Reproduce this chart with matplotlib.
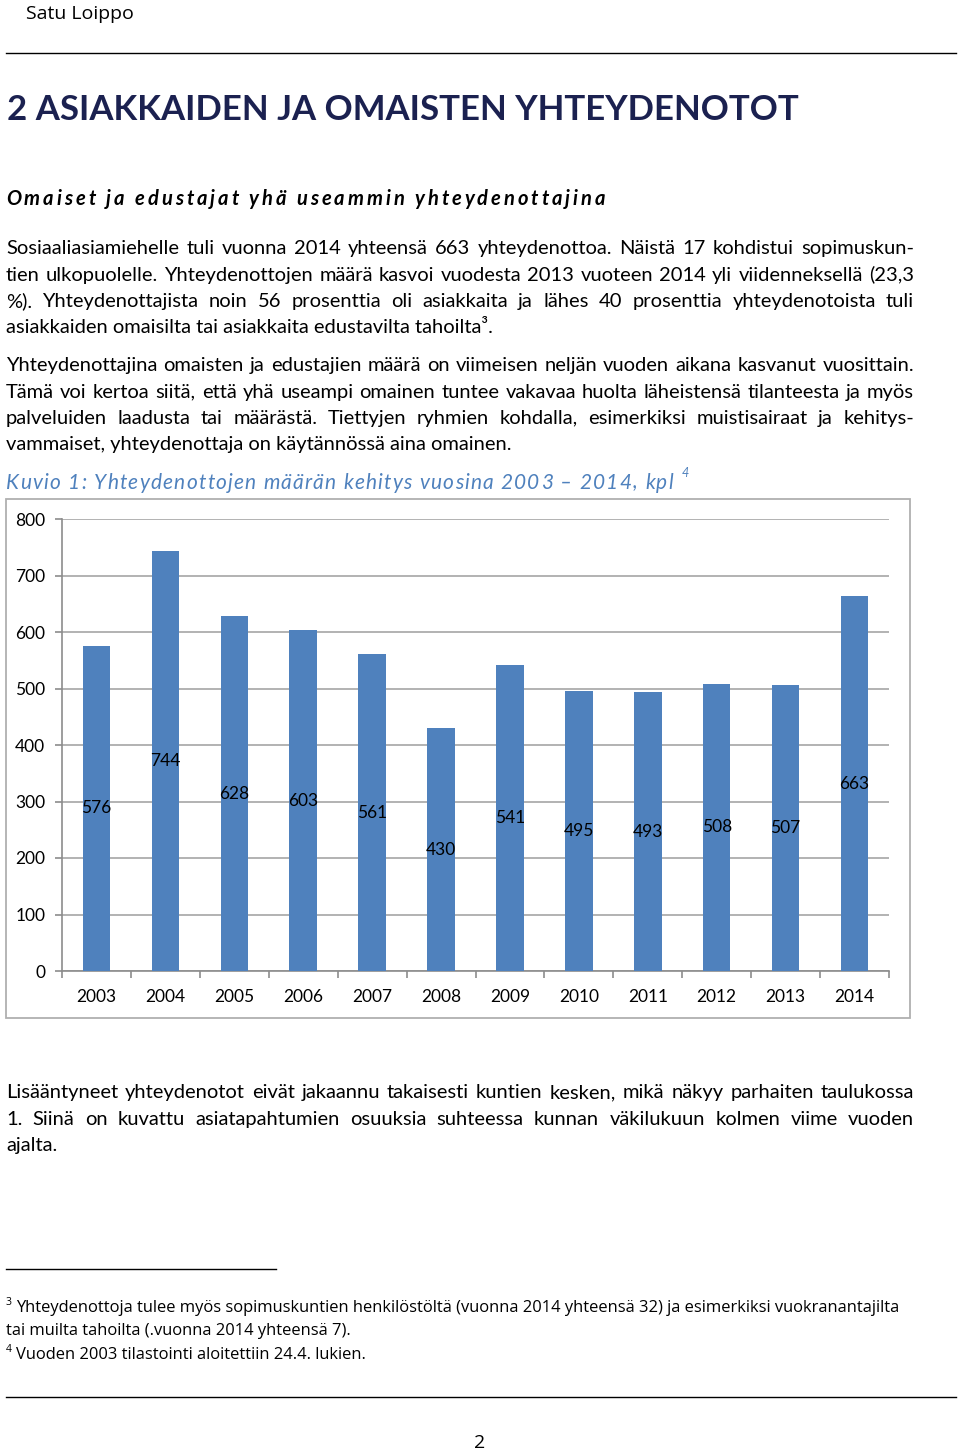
import matplotlib.pyplot as plt
from matplotlib.patches import Rectangle
from matplotlib.lines import Line2D

# chart data
years = ['2003', '2004', '2005', '2006', '2007', '2008',
         '2009', '2010', '2011', '2012', '2013', '2014']
contacts = [576, 744, 628, 603, 561, 430, 541, 495, 493, 508, 507, 663]
y_ticks = [0, 100, 200, 300, 400, 500, 600, 700, 800]

# page text
header = 'Satu Loippo'
heading = '2 ASIAKKAIDEN JA OMAISTEN YHTEYDENOTOT'
subheading = 'Omaiset ja edustajat yhä useammin yhteydenottajina'
para1 = [
    ('Sosiaaliasiamiehelle tuli vuonna 2014 yhteensä 663 yhteydenottoa. Näistä 17 kohdistui sopimuskun-', True),
    ('tien ulkopuolelle. Yhteydenottojen määrä kasvoi vuodesta 2013 vuoteen 2014 yli viidenneksellä (23,3', True),
    ('%). Yhteydenottajista noin 56 prosenttia oli asiakkaita ja lähes 40 prosenttia yhteydenotoista tuli', True),
    ('asiakkaiden omaisilta tai asiakkaita edustavilta tahoilta³.', False),
]
para2 = [
    ('Yhteydenottajina omaisten ja edustajien määrä on viimeisen neljän vuoden aikana kasvanut vuosittain.', True),
    ('Tämä voi kertoa siitä, että yhä useampi omainen tuntee vakavaa huolta läheistensä tilanteesta ja myös', True),
    ('palveluiden laadusta tai määrästä. Tiettyjen ryhmien kohdalla, esimerkiksi muistisairaat ja kehitys-', True),
    ('vammaiset, yhteydenottaja on käytännössä aina omainen.', False),
]
caption = 'Kuvio 1: Yhteydenottojen määrän kehitys vuosina 2003 – 2014, kpl'
para3 = [
    ('Lisääntyneet yhteydenotot eivät jakaannu takaisesti kuntien kesken, mikä näkyy parhaiten taulukossa', True),
    ('1. Siinä on kuvattu asiatapahtumien osuuksia suhteessa kunnan väkilukuun kolmen viime vuoden', True),
    ('ajalta.', False),
]
footnotes = [
    ('3', 'Yhteydenottoja tulee myös sopimuskuntien henkilöstöltä (vuonna 2014 yhteensä 32) ja esimerkiksi vuokranantajilta'),
    ('', 'tai muilta tahoilta (.vuonna 2014 yhteensä 7).'),
    ('4', 'Vuoden 2003 tilastointi aloitettiin 24.4. lukien.'),
]

W, H = 960, 1452
BODY = ['Lato', 'DejaVu Sans']
NOTE = ['Liberation Sans Narrow', 'Open Sans', 'DejaVu Sans']
BLUE = '#4f81bd'

fig = plt.figure(figsize=(W / 100, H / 100), dpi=100)
renderer = fig.canvas.get_renderer()


def fx(x):
    return x / W


def fy(y):
    return 1 - y / H


def put(x, y, s, **kw):
    # y is the visual middle of the capitals; text sits on a shared baseline
    size = kw.get('fontsize', 12)
    kw.setdefault('va', 'baseline')
    if kw['va'] == 'baseline':
        y = y + 0.36 * size * 100 / 72
    return fig.text(fx(x), fy(y), s, **kw)


def width_of(s, **kw):
    t = fig.text(0, 0, s, **kw)
    w = t.get_window_extent(renderer).width
    t.remove()
    return w


def justify(x0, x1, y, line, **kw):
    words = line.split(' ')
    objs = [put(x0, y, w, **kw) for w in words]
    widths = [o.get_window_extent(renderer).width for o in objs]
    gap = (x1 - x0 - sum(widths)) / max(len(words) - 1, 1)
    x = x0
    for o, w in zip(objs, widths):
        o.set_x(fx(x))
        x += w + gap


def tracked(x0, x1, y, s, **kw):
    # letter-spaced text stretched to fill x0..x1
    ref = width_of('l', **kw)
    pos = [width_of(s[:i] + 'l', **kw) - ref if i else 0 for i in range(len(s))]
    full = width_of(s, **kw)
    track = (x1 - x0 - full) / (len(s) - 1)
    for i, c in enumerate(s):
        if c != ' ':
            put(x0 + pos[i] + i * track, y, c, **kw)


def paragraph(lines, y0, step=26.3, size=14.5):
    for i, (line, just) in enumerate(lines):
        y = y0 + i * step
        if just:
            justify(6, 914, y, line, family=BODY, fontsize=size)
        else:
            put(6, y, line, family=BODY, fontsize=size)


# header and rules
put(26, 12, header, family=NOTE, fontsize=14)
fig.add_artist(Line2D([fx(6), fx(956)], [fy(53), fy(53)], color='black', lw=1))
put(7, 108, heading, family=BODY, fontsize=25, fontweight='bold', color='#1b2150')
tracked(6, 605, 198, subheading, family=BODY, fontsize=14.5, fontweight='bold', fontstyle='italic')

paragraph(para1, 247)
paragraph(para2, 364)

tracked(6, 673, 481, caption, family=BODY, fontsize=15, fontstyle='italic', color=BLUE)
put(682, 472, '4', family=BODY, fontsize=9, fontstyle='italic', color=BLUE)

# chart frame
fig.add_artist(Rectangle((fx(6), fy(1018)), (910 - 6) / W, (1018 - 499) / H,
                         fill=False, edgecolor='#b0b0b0', lw=1.3))

ax = fig.add_axes([fx(62), fy(971), (889 - 62) / W, (971 - 519) / H])
xs = range(len(years))
ax.bar(xs, contacts, width=0.4, color=BLUE, zorder=3)
for x, v in zip(xs, contacts):
    ax.text(x, v / 2, str(v), ha='center', va='center', fontsize=12.5,
            family=BODY, zorder=4)

ax.set_xlim(-0.5, len(years) - 0.5)
ax.set_ylim(0, 800)
ax.set_yticks(y_ticks)
ax.set_yticklabels([str(t) for t in y_ticks], family=BODY, fontsize=12.5)
ax.set_xticks(list(xs))
ax.set_xticklabels(years, family=BODY, fontsize=12.5)
ax.set_xticks([i - 0.5 for i in range(len(years) + 1)], minor=True)
ax.tick_params(axis='x', which='major', length=0, pad=13)
ax.tick_params(axis='x', which='minor', length=5, color='#8c8c8c', width=1.2)
ax.tick_params(axis='y', length=5, color='#8c8c8c', width=1.2, pad=7)
ax.grid(axis='y', color='#a6a6a6', lw=1.2, zorder=0)
for side in ['top', 'right']:
    ax.spines[side].set_visible(False)
for side in ['left', 'bottom']:
    ax.spines[side].set_color('#8c8c8c')
    ax.spines[side].set_linewidth(1.2)

paragraph(para3, 1091)

# footnotes
fig.add_artist(Line2D([fx(6), fx(276)], [fy(1269), fy(1269)], color='black', lw=1))
for i, (mark, note) in enumerate(footnotes):
    y = 1306 + i * 23.5
    if mark:
        put(6, y - 5, mark, family=NOTE, fontsize=7.5)
    put(16 if mark else 6, y, note, family=NOTE, fontsize=11.9)

fig.add_artist(Line2D([fx(6), fx(956)], [fy(1397), fy(1397)], color='black', lw=1))
put(480, 1441, '2', family=NOTE, fontsize=14, ha='center')

fig.savefig('out.png', dpi=100)
